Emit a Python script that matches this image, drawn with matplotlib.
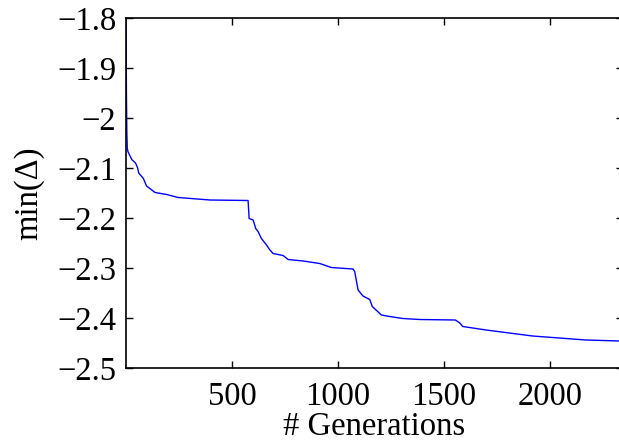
import matplotlib
matplotlib.use("Agg")
import matplotlib.pyplot as plt
from matplotlib.ticker import FuncFormatter

generations = [0, 2, 4, 6, 9, 27, 45, 55, 60, 82, 97, 137, 192, 246, 396, 576, 581, 600,
               612, 623, 639, 663, 679, 694, 741, 765, 836, 914, 969, 1071, 1079, 1095,
               1118, 1150, 1162, 1205, 1244, 1306, 1385, 1554, 1575, 1589, 1699, 1918,
               2170, 2330]
min_delta = [-1.80, -1.95, -2.03, -2.06, -2.067, -2.083, -2.09, -2.100, -2.110, -2.121,
             -2.136, -2.149, -2.153, -2.159, -2.164, -2.165, -2.201, -2.204, -2.221,
             -2.227, -2.241, -2.254, -2.264, -2.271, -2.275, -2.283, -2.286, -2.291,
             -2.299, -2.302, -2.307, -2.344, -2.356, -2.363, -2.377, -2.394, -2.397,
             -2.401, -2.403, -2.404, -2.410, -2.417, -2.424, -2.436, -2.444, -2.446]
x_ticks = [500, 1000, 1500, 2000]
y_ticks = [-2.5, -2.4, -2.3, -2.2, -2.1, -2.0, -1.9, -1.8]

plt.rcParams['font.family'] = ['Liberation Serif', 'DejaVu Serif']

fig = plt.figure(figsize=(6.19, 4.45), dpi=100)
ax = fig.add_axes([126/619, 1 - 368/445, (623 - 126)/619, (368 - 18)/445])
ax.plot(generations, min_delta, color=(0, 0, 1), linewidth=1.0)

ax.set_xlim(0, 2345)
ax.set_ylim(-2.5, -1.8)
ax.set_xticks(x_ticks)
ax.set_yticks(y_ticks)
ax.yaxis.set_major_formatter(FuncFormatter(lambda v, p: ('%g' % round(v, 1)).replace('-', '\u2212')))
ax.tick_params(direction='in', top=True, right=True, length=5, width=1,
               labelsize=23.5)
ax.tick_params(axis='y', pad=7)
ax.tick_params(axis='x', pad=10)
for s in ax.spines.values():
    s.set_linewidth(1.2)

ax.set_xlabel('# Generations', fontsize=23.5)
ax.set_ylabel('min(\u0394)', fontsize=23.5)
ax.xaxis.set_label_coords(0.5, -0.125)
ax.yaxis.set_label_coords(-0.165, 0.5)

fig.savefig('out.png', dpi=100)
